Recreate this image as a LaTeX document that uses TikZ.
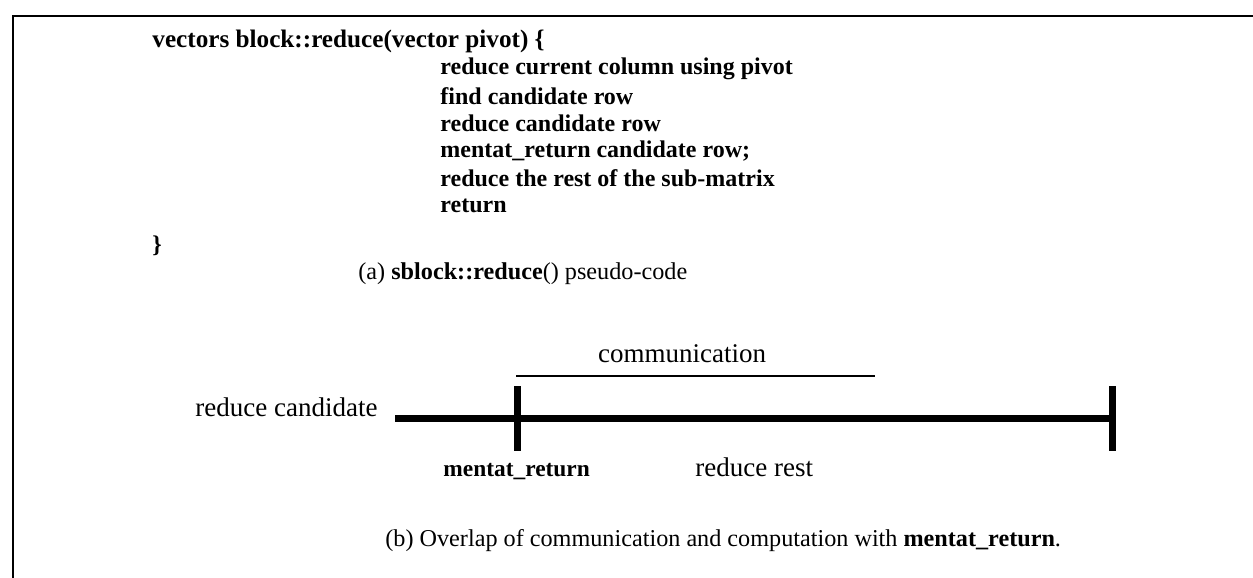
\documentclass[tikz,border=0pt]{standalone}
\usepackage{fontspec}
\setmainfont{Liberation Serif}
\begin{document}
\begin{tikzpicture}[x=0.5pt, y=-0.5pt,
  code/.style={anchor=west, inner sep=0pt, font=\fontsize{12}{14}\selectfont\bfseries},
  lbl/.style={inner sep=0pt, font=\fontsize{13.5}{16}\selectfont},
  captxt/.style={anchor=west, inner sep=0pt, font=\fontsize{12.1}{14}\selectfont},
  bar/.style={line width=3.5pt},
  rule/.style={line width=1pt}]
  \useasboundingbox (0,0) rectangle (1253,578);
  % Frame (open at right and bottom)
  \draw[rule] (13,578) -- (13,16) -- (1253,16);
  % (a) pseudo-code
  \node[code, font=\fontsize{12.6}{14}\selectfont\bfseries] (head) at (152,41) {vectors block::reduce(vector pivot) \{};
  \node[code] (l1) at (440,69) {reduce current column using pivot};
  \node[code] (l2) at (440,96) {find candidate row};
  \node[code] (l3) at (440,123) {reduce candidate row};
  \node[code] (l4) at (440,151) {mentat\_return candidate row;};
  \node[code] (l5) at (440,178) {reduce the rest of the sub-matrix};
  \node[code] (l6) at (440,206) {return};
  \node[code] (close) at (152,246) {\}};
  \node[captxt] (capa) at (358,274) {(a) \textbf{sblock::reduce}() pseudo-code};
  % (b) timeline
  \coordinate (start) at (395,418);
  \coordinate (stop) at (1116,418);
  \coordinate (retTop) at (517,386);
  \coordinate (retBot) at (517,451);
  \coordinate (endTop) at (1112,386);
  \coordinate (endBot) at (1112,451);
  \draw[bar] (start) -- (stop);
  \draw[bar] (retTop) -- (retBot);
  \draw[bar] (endTop) -- (endBot);
  % Communication span
  \coordinate (commL) at (516,376);
  \coordinate (commR) at (875,376);
  \draw[rule] (commL) -- (commR);
  \node[lbl] (comm) at (682,354) {communication};
  % Labels
  \node[lbl, anchor=east] (cand) at (378,407) {reduce candidate};
  \node[captxt, font=\fontsize{11.7}{14}\selectfont\bfseries] (ret) at (443,472) {mentat\_return};
  \node[lbl, anchor=west] (rest) at (695,467) {reduce rest};
  \node[captxt] (capb) at (385,541) {(b) Overlap of communication and computation with \textbf{mentat\_return}.};
\end{tikzpicture}
\end{document}
